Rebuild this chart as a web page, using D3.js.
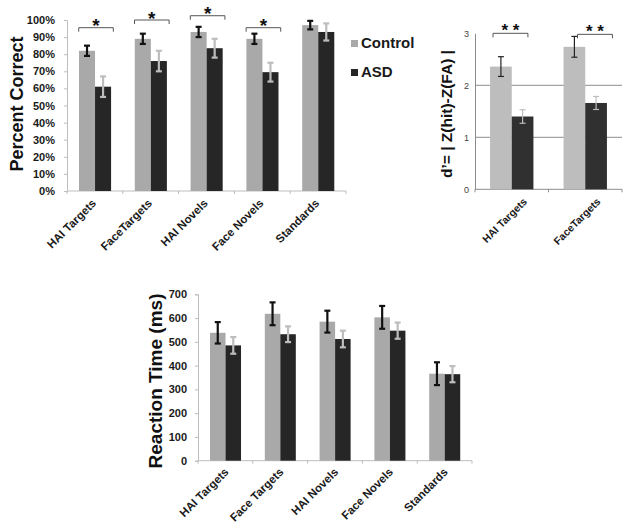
<!DOCTYPE html>
<html>
<head>
<meta charset="utf-8">
<script src="https://cdn.jsdelivr.net/npm/d3@7"></script>
<style>
  body { margin: 0; background: #fff; }
  svg { display: block; font-family: "Liberation Sans", Arial, sans-serif; }
</style>
</head>
<body>
<div id="root"></div>
<script>
// ---- data ----
const groups = ['Control', 'ASD'];

// Percent correct
const pcCategories = ['HAI Targets', 'FaceTargets', 'HAI Novels', 'Face Novels', 'Standards'];
const pcControl = [0.82, 0.89, 0.93, 0.89, 0.97];
const pcControlErr = [0.03, 0.03, 0.03, 0.03, 0.025];
const pcASD = [0.61, 0.76, 0.835, 0.695, 0.93];
const pcASDErr = [0.06, 0.06, 0.055, 0.055, 0.05];
const pcTicks = [0, 0.1, 0.2, 0.3, 0.4, 0.5, 0.6, 0.7, 0.8, 0.9, 1];
const pcSig = [
  { cat: 'HAI Targets', level: 0.955, label: '*' },
  { cat: 'FaceTargets', level: 1.0, label: '*' },
  { cat: 'HAI Novels', level: 1.025, label: '*' },
  { cat: 'Face Novels', level: 0.955, label: '*' }
];

// d'
const dCategories = ['HAI Targets', 'FaceTargets'];
const dControl = [2.36, 2.74];
const dControlErr = [0.19, 0.2];
const dASD = [1.40, 1.66];
const dASDErr = [0.13, 0.125];
const dTicks = [0, 1, 2, 3];
const dSig = [
  { cat: 'HAI Targets', level: 3.0, label: '* *' },
  { cat: 'FaceTargets', level: 2.98, label: '* *' }
];

// Reaction time
const rtCategories = ['HAI Targets', 'Face Targets', 'HAI Novels', 'Face Novels', 'Standards'];
const rtControl = [538, 618, 585, 603, 366];
const rtControlErr = [45, 48, 46, 48, 48];
const rtASD = [485, 532, 512, 547, 364];
const rtASDErr = [35, 33, 35, 34, 34];
const rtTicks = [0, 100, 200, 300, 400, 500, 600, 700];

const svg = d3.select('#root').append('svg')
  .attr('width', 629)
  .attr('height', 531);

// draw one grouped bar panel
function panel(opt) {
  const x0 = d3.scaleBand().domain(opt.categories).range(opt.xRange);
  const bw = x0.bandwidth();
  const x1 = d3.scaleBand().domain(groups).range([bw * opt.inner[0], bw * opt.inner[1]]);
  const y = d3.scaleLinear().domain(opt.yDomain).range(opt.yRange);
  const g = svg.append('g');

  // gridlines
  if (opt.grid) {
    g.selectAll('.grid')
      .data(opt.grid)
      .enter()
      .append('line')
      .attr('x1', opt.xRange[0]).attr('x2', opt.xRange[1])
      .attr('y1', d => y(d)).attr('y2', d => y(d))
      .attr('stroke', '#8c8c8c').attr('stroke-width', 1);
  }

  // y axis
  const yAxis = d3.axisLeft(y).tickValues(opt.ticks).tickFormat(opt.fmt).tickSize(opt.tickSize).tickPadding(opt.tickPad);
  const ya = g.append('g')
    .attr('transform', `translate(${opt.xRange[0]},0)`)
    .call(yAxis);
  ya.select('.domain').attr('stroke', opt.axisColor);
  ya.selectAll('.tick line').attr('stroke', opt.axisColor);
  ya.selectAll('.tick text')
    .attr('fill', opt.tickColor)
    .style('font-size', opt.tickFont + 'px')
    .style('font-weight', opt.tickWeight);

  // x axis (ticks at category boundaries)
  const base = opt.yRange[0];
  const bounds = opt.categories.map(c => x0(c)).concat([opt.xRange[1]]);
  g.append('line')
    .attr('x1', opt.xRange[0]).attr('x2', opt.xRange[1])
    .attr('y1', base).attr('y2', base)
    .attr('stroke', opt.axisColor);
  g.selectAll('.xt')
    .data(bounds)
    .enter()
    .append('line')
    .attr('x1', d => d).attr('x2', d => d)
    .attr('y1', base).attr('y2', base + 3)
    .attr('stroke', opt.axisColor);

  // bars
  const rows = opt.categories.map((c, i) => ({
    cat: c,
    vals: [
      { key: 'Control', v: opt.control[i], e: opt.controlErr[i] },
      { key: 'ASD', v: opt.asd[i], e: opt.asdErr[i] }
    ]
  }));
  const cg = g.selectAll('.cat')
    .data(rows)
    .enter()
    .append('g')
    .attr('transform', d => `translate(${x0(d.cat)},0)`);
  cg.selectAll('rect')
    .data(d => d.vals)
    .enter()
    .append('rect')
    .attr('x', d => x1(d.key))
    .attr('y', d => y(d.v))
    .attr('width', x1.bandwidth())
    .attr('height', d => base - y(d.v))
    .attr('fill', d => opt.colors[d.key]);

  // error bars
  const eb = cg.selectAll('.err')
    .data(d => d.vals)
    .enter()
    .append('g')
    .attr('stroke', d => opt.errColors[d.key])
    .attr('stroke-width', opt.errWidth);
  const cx = d => x1(d.key) + x1.bandwidth() / 2;
  eb.append('line')
    .attr('x1', cx).attr('x2', cx)
    .attr('y1', d => y(d.v + d.e)).attr('y2', d => y(d.v - d.e));
  eb.append('line')
    .attr('x1', d => cx(d) - opt.cap).attr('x2', d => cx(d) + opt.cap)
    .attr('y1', d => y(d.v + d.e)).attr('y2', d => y(d.v + d.e));
  eb.append('line')
    .attr('x1', d => cx(d) - opt.cap).attr('x2', d => cx(d) + opt.cap)
    .attr('y1', d => y(d.v - d.e)).attr('y2', d => y(d.v - d.e));

  // category labels
  g.selectAll('.xl')
    .data(opt.categories)
    .enter()
    .append('text')
    .attr('transform', d => `translate(${x0(d) + bw / 2 + opt.labelOff[0]},${base + opt.labelOff[1]}) rotate(-45)`)
    .attr('text-anchor', 'end')
    .style('font-size', opt.labelFont + 'px')
    .style('font-weight', 'bold')
    .attr('fill', '#1a1a1a')
    .text(d => d);

  // y title
  g.append('text')
    .attr('transform', `translate(${opt.titlePos[0]},${opt.titlePos[1]}) rotate(-90)`)
    .attr('text-anchor', 'middle')
    .style('font-size', opt.titleFont + 'px')
    .style('font-weight', 'bold')
    .attr('fill', '#111')
    .text(opt.title);

  // significance brackets
  if (opt.sig) {
    opt.sig.forEach((s, i) => {
      const shift = opt.sigShift ? opt.sigShift[i] : 0;
      const xa = x0(s.cat) + bw * opt.sigSpan[0] + shift;
      const xb = x0(s.cat) + bw * opt.sigSpan[1] + shift;
      const yy = y(s.level);
      g.append('path')
        .attr('d', `M${xa},${yy + 4}V${yy}H${xb}V${yy + 4}`)
        .attr('fill', 'none')
        .attr('stroke', '#555')
        .attr('stroke-width', 1);
      g.append('text')
        .attr('x', (xa + xb) / 2)
        .attr('y', yy + opt.starDy)
        .attr('text-anchor', 'middle')
        .style('font-size', opt.starFont + 'px')
        .style('font-weight', 'bold')
        .attr('fill', '#111')
        .text(s.label);
    });
  }
}

panel({
  categories: pcCategories, control: pcControl, controlErr: pcControlErr, asd: pcASD, asdErr: pcASDErr,
  xRange: [67, 346], yRange: [191, 20], yDomain: [0, 1], inner: [0.215, 0.79],
  ticks: pcTicks, fmt: d3.format('.0%'), tickSize: 3, tickPad: 9, tickFont: 11, tickWeight: 'bold', tickColor: '#1a1a1a',
  axisColor: '#bdbdbd',
  colors: { Control: '#a9a9a9', ASD: '#262626' },
  errColors: { Control: '#111', ASD: '#bdbdbd' }, errWidth: 2.2, cap: 3,
  labelOff: [2, 13], labelFont: 11.5,
  title: 'Percent Correct', titleFont: 18, titlePos: [23, 104],
  sig: pcSig, sigSpan: [0.21, 0.83], starDy: 4.5, starFont: 19
});

panel({
  categories: dCategories, control: dControl, controlErr: dControlErr, asd: dASD, asdErr: dASDErr,
  xRange: [475, 622], yRange: [189.3, 33.3], yDomain: [0, 3], inner: [0.205, 0.795],
  ticks: dTicks, fmt: d3.format('d'), tickSize: 0, tickPad: 6, tickFont: 9, tickWeight: 'normal', tickColor: '#444',
  axisColor: '#8c8c8c', grid: [1, 2],
  colors: { Control: '#bdbdbd', ASD: '#303030' },
  errColors: { Control: '#222', ASD: '#bdbdbd' }, errWidth: 1.2, cap: 3,
  labelOff: [16, 13], labelFont: 10.5,
  title: 'd’= | Z(hit)-Z(FA) |', titleFont: 15.5, titlePos: [452, 114],
  sig: dSig, sigSpan: [0.245, 0.72], sigShift: [0, 11], starDy: 3, starFont: 17
});

panel({
  categories: rtCategories, control: rtControl, controlErr: rtControlErr, asd: rtASD, asdErr: rtASDErr,
  xRange: [198, 472], yRange: [460.7, 294.3], yDomain: [0, 700], inner: [0.219, 0.785],
  ticks: rtTicks, fmt: d3.format('d'), tickSize: 3, tickPad: 8, tickFont: 11, tickWeight: 'bold', tickColor: '#1a1a1a',
  axisColor: '#bdbdbd',
  colors: { Control: '#a9a9a9', ASD: '#262626' },
  errColors: { Control: '#111', ASD: '#bdbdbd' }, errWidth: 2.2, cap: 3,
  labelOff: [4, 12], labelFont: 11.5,
  title: 'Reaction Time (ms)', titleFont: 19, titlePos: [162, 381]
});

// legend
const legend = svg.append('g');
legend.selectAll('rect')
  .data(groups)
  .enter()
  .append('rect')
  .attr('x', 351)
  .attr('y', (d, i) => 40 + i * 29)
  .attr('width', 7)
  .attr('height', 7)
  .attr('fill', (d, i) => i === 0 ? '#a9a9a9' : '#262626');
legend.selectAll('text')
  .data(groups)
  .enter()
  .append('text')
  .attr('x', 361)
  .attr('y', (d, i) => 48 + i * 29)
  .style('font-size', '15px')
  .style('font-weight', 'bold')
  .attr('fill', '#1a1a1a')
  .text(d => d);
</script>
</body>
</html>
